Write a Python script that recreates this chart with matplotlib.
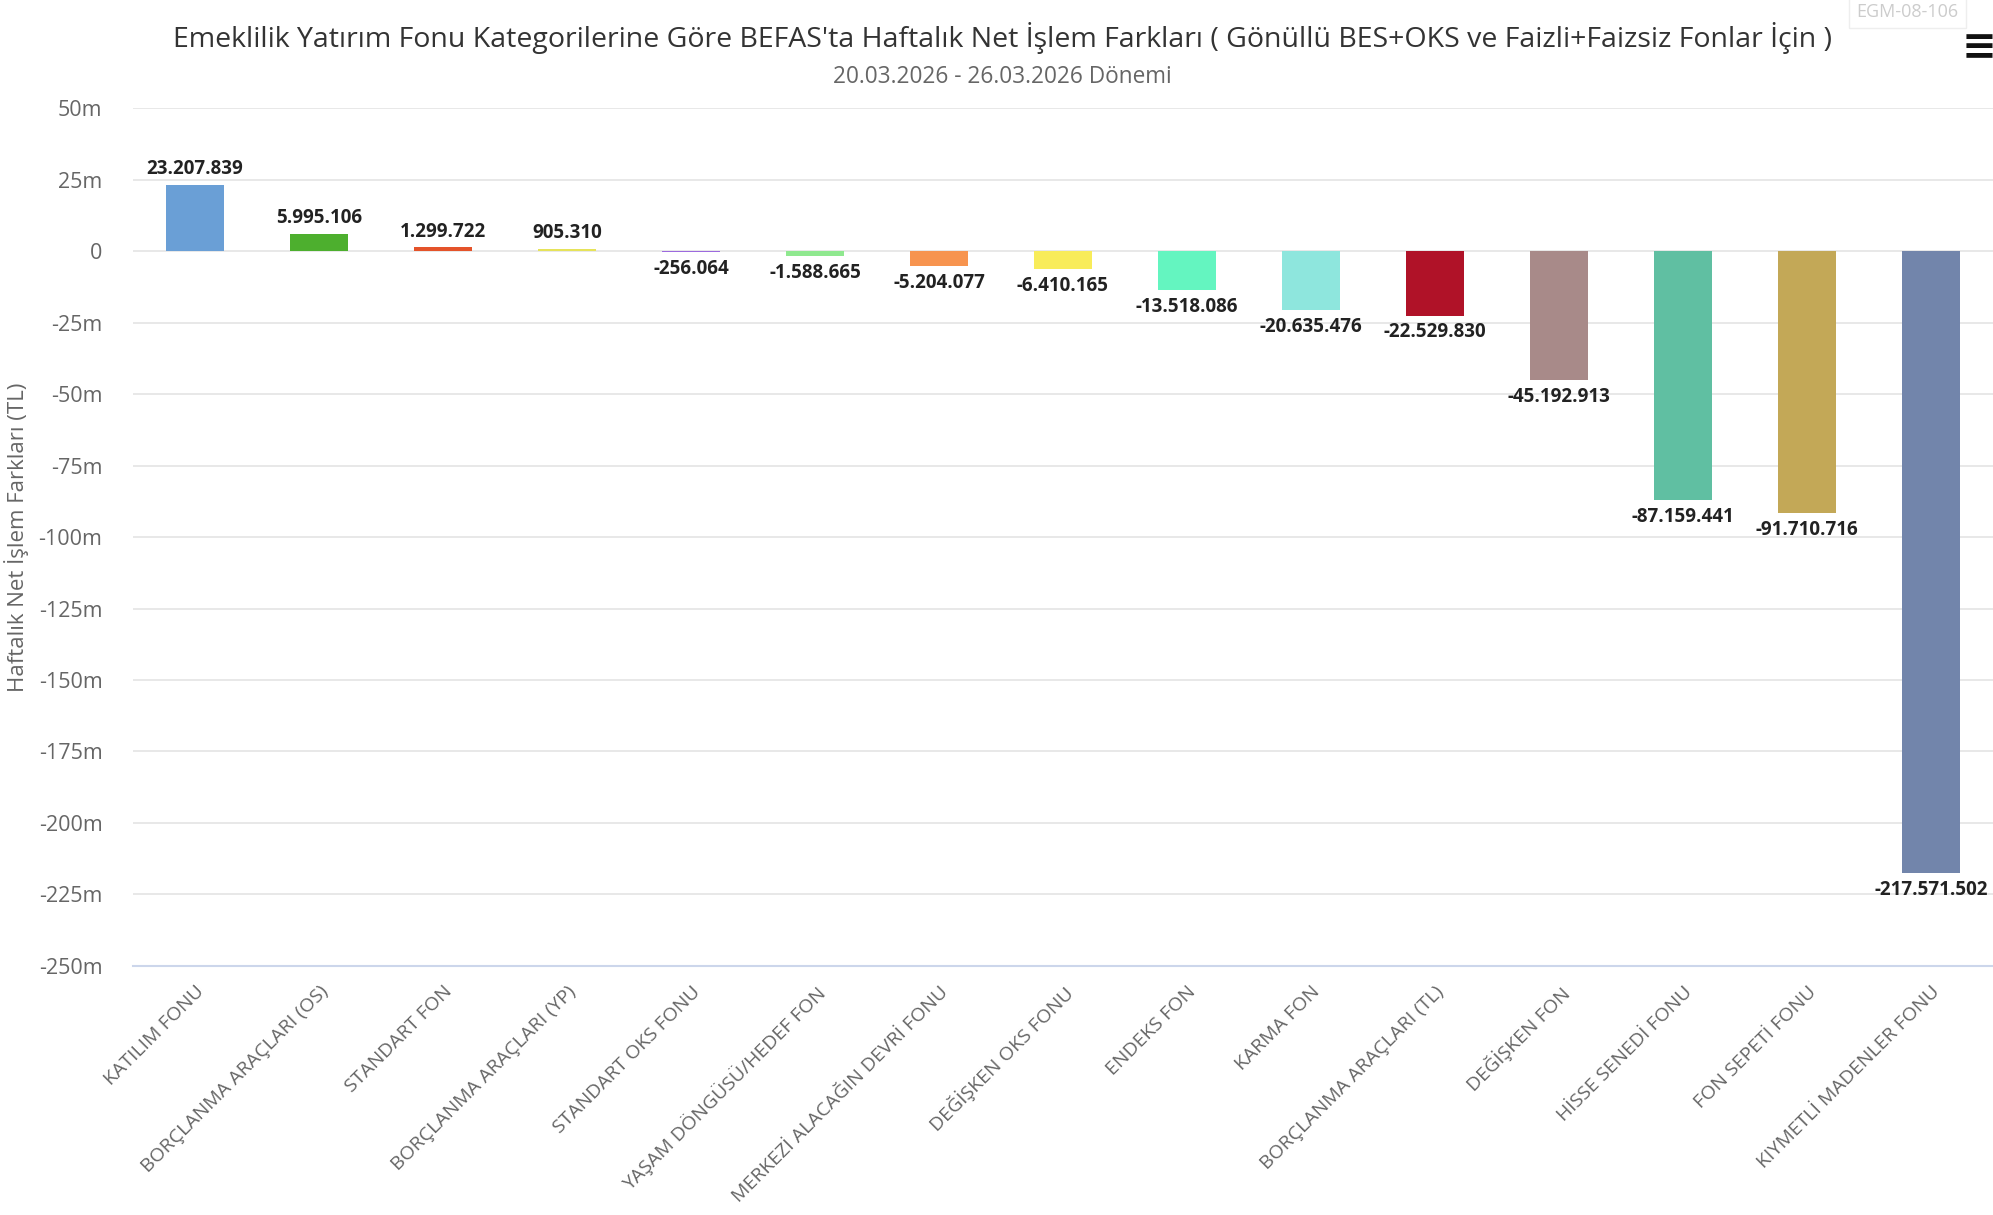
import numpy as np
import matplotlib
matplotlib.use("Agg")
from matplotlib import pyplot as plt

# chart data
categories = ["KATILIM FONU", "BORÇLANMA ARAÇLARI (OS)", "STANDART FON",
              "BORÇLANMA ARAÇLARI (YP)", "STANDART OKS FONU", "YAŞAM DÖNGÜSÜ/HEDEF FON",
              "MERKEZİ ALACAĞIN DEVRİ FONU", "DEĞİŞKEN OKS FONU", "ENDEKS FON",
              "KARMA FON", "BORÇLANMA ARAÇLARI (TL)", "DEĞİŞKEN FON",
              "HİSSE SENEDİ FONU", "FON SEPETİ FONU", "KIYMETLİ MADENLER FONU"]
values = [23207839, 5995106, 1299722, 905310, -256064, -1588665, -5204077,
          -6410165, -13518086, -20635476, -22529830, -45192913, -87159441,
          -91710716, -217571502]
colors = ["#6a9fd6", "#4daf2e", "#e4532a", "#e6e35a", "#9c6ade", "#8fe88f",
          "#f7944f", "#f8ec5a", "#64f5c0", "#8ee6dd", "#b01228", "#a88a89",
          "#60bfa2", "#c3a857", "#7285ab"]
y_ticks = [50e6, 25e6, 0, -25e6, -50e6, -75e6, -100e6, -125e6, -150e6,
           -175e6, -200e6, -225e6, -250e6]

title = ("Emeklilik Yatırım Fonu Kategorilerine Göre BEFAS'ta Haftalık Net İşlem "
         "Farkları ( Gönüllü BES+OKS ve Faizli+Faizsiz Fonlar İçin )")
subtitle = "20.03.2026 - 26.03.2026 Dönemi"


def fmt_tr(v):
    """ Turkish thousands separator. """
    s = f"{abs(v):,}".replace(",", ".")
    return "-" + s if v < 0 else s


def fmt_axis(v):
    if v == 0:
        return "0"
    return f"{int(v / 1e6)}m"


fig = plt.figure(figsize=(19.93, 12.15), dpi=100)
ax = fig.add_axes([0.0667, 0.205, 0.9333, 0.706])

x = np.arange(len(categories))
ax.bar(x, values, width=0.47, color=colors, zorder=3)

for xi, v in zip(x, values):
    if v >= 0:
        ax.annotate(fmt_tr(v), (xi, v), xytext=(0, 4), textcoords="offset points",
                    ha="center", va="bottom", fontsize=13.5, fontweight="bold",
                    color="#222222", family="Open Sans", zorder=5)
    else:
        ax.annotate(fmt_tr(v), (xi, v), xytext=(0, -5), textcoords="offset points",
                    ha="center", va="top", fontsize=13.5, fontweight="bold",
                    color="#222222", family="Open Sans", zorder=5, annotation_clip=False)

ax.set_xlim(-0.5, len(categories) - 0.5)
ax.set_ylim(-250e6, 50e6)
ax.set_yticks(y_ticks)
ax.set_yticklabels([fmt_axis(t) for t in y_ticks], fontsize=15.5, color="#666666",
                   family="Open Sans")
ax.set_xticks(x)
ax.set_xticklabels(categories, rotation=45, ha="right", rotation_mode="anchor",
                   fontsize=14, color="#666666", family="Open Sans")
ax.tick_params(axis="both", length=0)
ax.tick_params(axis="y", pad=22)
ax.tick_params(axis="x", pad=12)

ax.grid(axis="y", color="#e6e6e6", linewidth=1.3, zorder=0)
for s in ["top", "right", "left"]:
    ax.spines[s].set_visible(False)
ax.spines["bottom"].set_color("#ccd6eb")
ax.spines["bottom"].set_linewidth(1.5)

ax.set_ylabel("Haftalık Net İşlem Farkları (TL)", fontsize=16, color="#666666",
              family="Open Sans")
ax.yaxis.set_label_coords(-0.056, 0.5)

fig.text(0.503, 0.969, title, ha="center", va="center", fontsize=20.5,
         color="#333333", family="Open Sans")
fig.text(0.503, 0.937, subtitle, ha="center", va="center", fontsize=16.3,
         color="#666666", family="Open Sans")

# exporting menu and code box in the corner
fig.text(0.993, 0.961, "≡", ha="center", va="center", fontsize=30,
         fontweight="bold", color="#111111")
fig.text(0.957, 0.99, "EGM-08-106", ha="center", va="center", fontsize=13,
         color="#cccccc", family="Open Sans",
         bbox=dict(boxstyle="square,pad=0.4", fc="white", ec="#eeeeee"))

fig.savefig("out.png", dpi=100, facecolor="white")
